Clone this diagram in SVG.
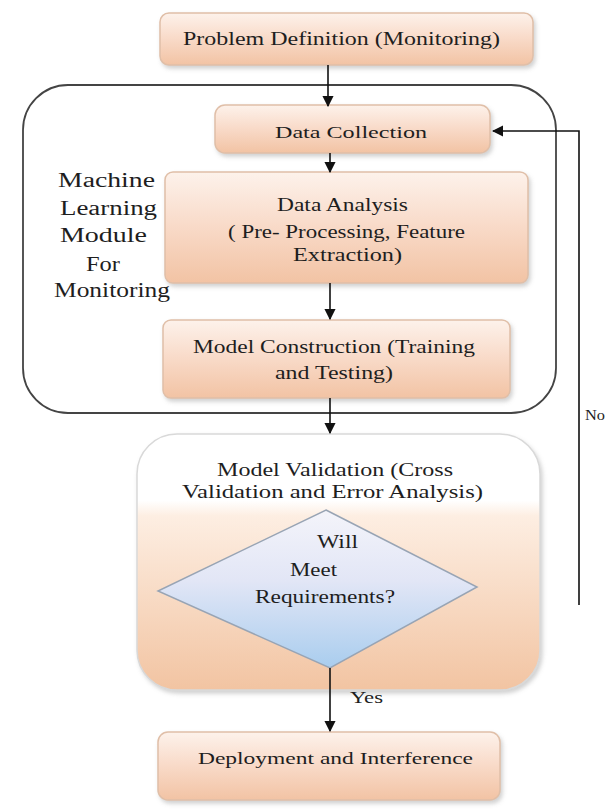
<svg xmlns="http://www.w3.org/2000/svg" width="608" height="811" viewBox="0 0 608 811">
<style>
  .t { font-family: "Liberation Serif", "Times New Roman", serif; fill: #1e1e1e; }
  .box { fill: url(#peach); stroke: #e0bfa8; stroke-width: 1.5; filter: url(#sh); }
  .conn { stroke: #111; stroke-width: 1.6; fill: none; }
</style>
<defs>
  <linearGradient id="peach" x1="0" y1="0" x2="0" y2="1">
    <stop offset="0" stop-color="#fdf2eb"/>
    <stop offset="0.45" stop-color="#f9dccb"/>
    <stop offset="1" stop-color="#f2c3a4"/>
  </linearGradient>
  <linearGradient id="valid" x1="0" y1="0" x2="0" y2="1">
    <stop offset="0" stop-color="#ffffff"/>
    <stop offset="0.26" stop-color="#ffffff"/>
    <stop offset="0.32" stop-color="#fdeee2"/>
    <stop offset="1" stop-color="#f2c4a2"/>
  </linearGradient>
  <linearGradient id="dia" x1="0" y1="0" x2="0" y2="1">
    <stop offset="0" stop-color="#f4f4fa"/>
    <stop offset="0.45" stop-color="#e2e6f6"/>
    <stop offset="1" stop-color="#a9cdee"/>
  </linearGradient>
  <filter id="sh" x="-5%" y="-10%" width="112%" height="130%">
    <feDropShadow dx="2" dy="3" stdDeviation="2" flood-color="#999" flood-opacity="0.45"/>
  </filter>
  <marker id="arr" viewBox="0 0 10 10" refX="9" refY="5" markerWidth="7" markerHeight="7" orient="auto-start-reverse">
    <path d="M0,0 L10,5 L0,10 z" fill="#111"/>
  </marker>
</defs>
<rect width="608" height="811" fill="#fff"/>

<g id="ml-module">
  <rect x="23" y="85" width="533" height="328" rx="45" fill="none" stroke="#444" stroke-width="1.8"/>
  <text class="t" font-size="20" x="58" y="187" textLength="97" lengthAdjust="spacingAndGlyphs">Machine</text>
  <text class="t" font-size="20" x="60" y="215" textLength="97" lengthAdjust="spacingAndGlyphs">Learning</text>
  <text class="t" font-size="20" x="60" y="242" textLength="87" lengthAdjust="spacingAndGlyphs">Module</text>
  <text class="t" font-size="20" x="86" y="271" textLength="34" lengthAdjust="spacingAndGlyphs">For</text>
  <text class="t" font-size="20" x="54" y="297" textLength="116" lengthAdjust="spacingAndGlyphs">Monitoring</text>
</g>

<g id="problem">
  <rect class="box" x="160" y="13" width="373" height="52" rx="9"/>
  <text class="t" font-size="18" x="183" y="45" textLength="317" lengthAdjust="spacingAndGlyphs">Problem Definition (Monitoring)</text>
</g>

<g id="collection">
  <rect class="box" x="215" y="105" width="275" height="48" rx="10"/>
  <text class="t" font-size="17" x="275" y="138" textLength="152" lengthAdjust="spacingAndGlyphs">Data Collection</text>
</g>

<g id="analysis">
  <rect class="box" x="165" y="172" width="363" height="111" rx="8"/>
  <text class="t" font-size="19" x="277" y="211" textLength="131" lengthAdjust="spacingAndGlyphs">Data Analysis</text>
  <text class="t" font-size="19" x="228" y="238" textLength="237" lengthAdjust="spacingAndGlyphs">( Pre- Processing, Feature</text>
  <text class="t" font-size="19" x="293" y="261" textLength="109" lengthAdjust="spacingAndGlyphs">Extraction)</text>
</g>

<g id="construction">
  <rect class="box" x="163" y="320" width="347" height="78" rx="8"/>
  <text class="t" font-size="18" x="193" y="353" textLength="282" lengthAdjust="spacingAndGlyphs">Model Construction (Training</text>
  <text class="t" font-size="18" x="275" y="379" textLength="118" lengthAdjust="spacingAndGlyphs">and Testing)</text>
</g>

<g id="validation">
  <rect x="137" y="434" width="403" height="256" rx="40" fill="url(#valid)" stroke="#d9d9d9" stroke-width="1.5" filter="url(#sh)"/>
  <text class="t" font-size="18" x="217" y="476" textLength="236" lengthAdjust="spacingAndGlyphs">Model Validation (Cross</text>
  <text class="t" font-size="18" x="182" y="498" textLength="301" lengthAdjust="spacingAndGlyphs">Validation and Error Analysis)</text>
</g>

<g id="decision">
  <polygon points="326,510 477,587 330,668 158,591" fill="url(#dia)" stroke="#98a4b4" stroke-width="1.5"/>
  <text class="t" font-size="18" x="317" y="548" textLength="41" lengthAdjust="spacingAndGlyphs">Will</text>
  <text class="t" font-size="18" x="290" y="576" textLength="47" lengthAdjust="spacingAndGlyphs">Meet</text>
  <text class="t" font-size="18" x="255" y="603" textLength="140" lengthAdjust="spacingAndGlyphs">Requirements?</text>
</g>

<g id="deployment">
  <rect class="box" x="158" y="732" width="342" height="68" rx="10"/>
  <text class="t" font-size="17" x="198" y="764" textLength="275" lengthAdjust="spacingAndGlyphs">Deployment and Interference</text>
</g>

<g id="connectors">
  <line class="conn" x1="328" y1="65" x2="328" y2="106" marker-end="url(#arr)"/>
  <line class="conn" x1="330" y1="153" x2="330" y2="172" marker-end="url(#arr)"/>
  <line class="conn" x1="330" y1="283" x2="330" y2="319" marker-end="url(#arr)"/>
  <line class="conn" x1="330" y1="398" x2="330" y2="433" marker-end="url(#arr)"/>
  <line class="conn" x1="330" y1="668" x2="330" y2="731" marker-end="url(#arr)"/>
  <polyline class="conn" points="579,605 579,131 493,131" marker-end="url(#arr)"/>
  <text class="t" font-size="16" x="350" y="703" textLength="33" lengthAdjust="spacingAndGlyphs">Yes</text>
  <text class="t" font-size="15" x="585" y="420" textLength="20" lengthAdjust="spacingAndGlyphs">No</text>
</g>
</svg>
